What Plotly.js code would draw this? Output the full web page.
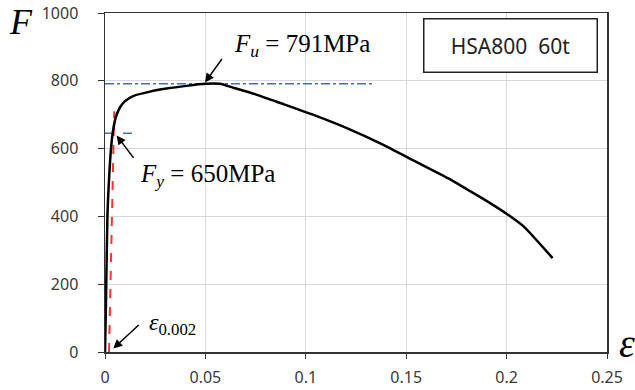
<!DOCTYPE html>
<html>
<head>
<meta charset="utf-8">
<script src="https://cdn.plot.ly/plotly-3.0.1.min.js"></script>
<style>html,body{margin:0;padding:0;background:#fff;}#chart{width:635px;height:390px;}</style>
</head>
<body>
<div id="chart"></div>
<script>
// Stress-strain curve (strain, stress in MPa)
const strain = [0, 0.0005, 0.0012, 0.0022, 0.003, 0.0038, 0.005, 0.0058, 0.0075, 0.010, 0.014, 0.0224, 0.0307, 0.0406, 0.050, 0.0572, 0.0637, 0.075, 0.088, 0.1045, 0.121, 0.1376, 0.154, 0.171, 0.1808, 0.1908, 0.2007, 0.2082, 0.2229];
const stress = [0, 150, 400, 530, 600, 645, 684, 700, 722, 740, 755, 768, 777, 785, 791, 791, 780, 760, 733, 698, 659, 614, 564, 512, 478, 443, 405, 372, 277];
// 0.2% offset line
const offsetX = [0.002, 0.0046];
const offsetY = [0, 710];
// Reference levels
const fuX = [0, 0.133];
const fuY = [791, 791];
const fyX = [0, 0.017];
const fyY = [645, 645];
const xTicks = [0, 0.05, 0.1, 0.15, 0.2, 0.25];
const xTickLabels = ['0', '0.05', '0.1', '0.15', '0.2', '0.25'];
const yTicks = [0, 200, 400, 600, 800, 1000];

const serif = 'Liberation Serif, Times New Roman, serif';
const sans = 'Noto Sans, DejaVu Sans, sans-serif';
const traces = [
  {x: fuX, y: fuY, mode: 'lines', line: {color: '#4a6fa8', width: 1.5, dash: 'dashdot'}, hoverinfo: 'skip'},
  {x: fyX, y: fyY, mode: 'lines', line: {color: '#4a6fa8', width: 1.5, dash: 'dash'}, hoverinfo: 'skip'},
  {x: offsetX, y: offsetY, mode: 'lines', line: {color: '#ff3333', width: 2, dash: 'dash'}, hoverinfo: 'skip'},
  {x: strain, y: stress, mode: 'lines', line: {color: '#000', width: 2.5, shape: 'spline', smoothing: 0.6}, hoverinfo: 'skip'}
];

const layout = {
  width: 635, height: 390,
  margin: {l: 105, r: 28, t: 13, b: 38},
  showlegend: false,
  paper_bgcolor: '#fff', plot_bgcolor: '#fff',
  font: {family: sans, size: 16, color: '#3a3a3a'},
  xaxis: {
    range: [0, 0.25], tickvals: xTicks, ticktext: xTickLabels,
    showgrid: true, gridcolor: '#d9d9d9', gridwidth: 1,
    showline: true, linecolor: '#333', linewidth: 1.5, mirror: true,
    ticks: 'outside', ticklen: 5, tickcolor: '#333', zeroline: false,
    ticklabelstandoff: 5,
    tickfont: {family: sans, size: 16, color: '#3a3a3a'}
  },
  yaxis: {
    range: [0, 1000], tickvals: yTicks,
    showgrid: true, gridcolor: '#d9d9d9', gridwidth: 1,
    showline: true, linecolor: '#333', linewidth: 1.5, mirror: true,
    ticks: 'outside', ticklen: 6, tickcolor: '#333', zeroline: false,
    ticklabelstandoff: 16,
    tickfont: {family: sans, size: 16, color: '#3a3a3a'}
  },
  annotations: [
    {xref: 'paper', yref: 'paper', x: -0.167, y: 0.973, xanchor: 'center', yanchor: 'middle', text: '<i>F</i>', showarrow: false, font: {family: serif, size: 36, color: '#000'}},
    {xref: 'paper', yref: 'paper', x: 1.04, y: 0.025, xanchor: 'center', yanchor: 'middle', text: '<i>ε</i>', showarrow: false, font: {family: serif, size: 40, color: '#000'}},
    {x: 0.0498, y: 795, text: '', showarrow: true, arrowhead: 2, arrowsize: 1.2, arrowwidth: 1.5, arrowcolor: '#000', ax: 18, ay: -25},
    {x: 0.0058, y: 639, text: '', showarrow: true, arrowhead: 2, arrowsize: 1.2, arrowwidth: 1.5, arrowcolor: '#000', ax: 18, ay: 24},
    {x: 0.0041, y: 10, text: '', showarrow: true, arrowhead: 2, arrowsize: 1.2, arrowwidth: 1.5, arrowcolor: '#000', ax: 27, ay: -25},
    {x: 0.0632, y: 905, xanchor: 'left', yanchor: 'middle', text: '<i>F</i><sub><i>u</i></sub> = 791MPa', showarrow: false, font: {family: serif, size: 25, color: '#000'}},
    {x: 0.0164, y: 520, xanchor: 'left', yanchor: 'middle', text: '<i>F</i><sub><i>y</i></sub> = 650MPa', showarrow: false, font: {family: serif, size: 25, color: '#000'}},
    {x: 0.0209, y: 82, xanchor: 'left', yanchor: 'middle', text: '<i>ε</i><sub>0.002</sub>', showarrow: false, font: {family: serif, size: 24, color: '#000'}},
    {xref: 'paper', yref: 'paper', x: 0.982, y: 0.985, xanchor: 'right', yanchor: 'top', text: 'HSA800  60t', showarrow: false,
     width: 172, height: 52, bordercolor: '#222', borderwidth: 1.5, borderpad: 0, bgcolor: '#fff',
     font: {family: sans, size: 21, color: '#222'}}
  ]
};

Plotly.newPlot('chart', traces, layout, {staticPlot: true, displayModeBar: false});
</script>
</body>
</html>
